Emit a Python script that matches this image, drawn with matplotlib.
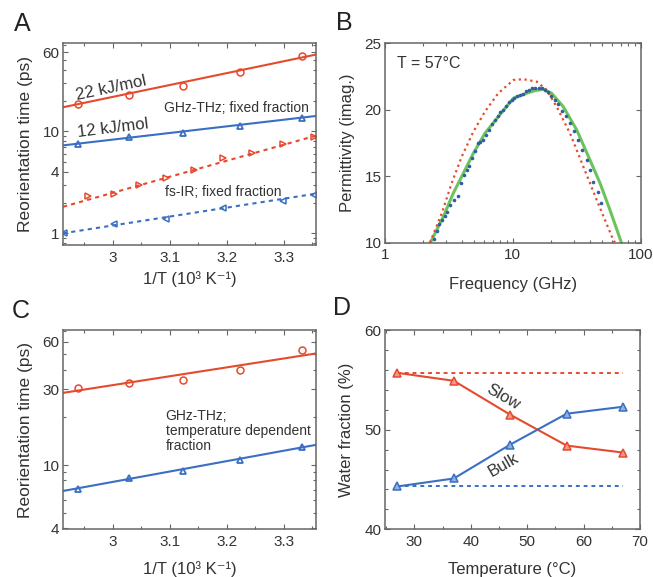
import numpy as np
import matplotlib
matplotlib.use("Agg")
import matplotlib.pyplot as plt
from matplotlib.ticker import MultipleLocator, LogLocator, NullFormatter

plt.rcParams["font.family"] = ["Liberation Sans", "DejaVu Sans"]
plt.rcParams["text.color"] = "#333333"
plt.rcParams["axes.labelcolor"] = "#333333"
plt.rcParams["xtick.color"] = "#666666"
plt.rcParams["ytick.color"] = "#666666"
plt.rcParams["xtick.labelcolor"] = "#333333"
plt.rcParams["ytick.labelcolor"] = "#333333"

RED = "#e64a2e"
BLUE = "#3a6fc2"
GREEN = "#6cc35c"
DOTS = "#2f5ea8"

# --- panel A: fixed fraction ---
inv_t = [2.940, 3.029, 3.124, 3.224, 3.332]
tau_slow_fixed = [18.7, 22.9, 28.2, 38.2, 55.6]
tau_bulk_fixed = [7.46, 8.8, 9.64, 11.3, 13.6]
inv_t_ir_slow = [2.957, 3.002, 3.047, 3.094, 3.143, 3.193, 3.245, 3.299, 3.354]
tau_ir_slow = [2.31, 2.45, 2.96, 3.52, 4.21, 5.48, 6.14, 7.57, 8.8]
inv_t_ir_bulk = [2.914, 3.002, 3.094, 3.193, 3.299, 3.354]
tau_ir_bulk = [1.01, 1.22, 1.37, 1.79, 2.08, 2.39]
fit_x = [2.913, 3.357]
fit_slow_fixed = [17.3, 57.0]
fit_bulk_fixed = [7.3, 14.2]
fit_ir_slow = [1.82, 9.1]
fit_ir_bulk = [1.0, 2.45]

# --- panel B: spectrum at 57 C ---
freq_fit = [2.25, 2.32, 2.86, 3.42, 4.10, 4.91, 6.05, 7.69, 10.1, 12.8, 15.0, 17.3,
            20.1, 24.8, 31.6, 40.1, 48.1, 57.5, 71.0]
eps_fit = [10.0, 10.2, 11.96, 13.72, 15.22, 16.73, 18.23, 19.48, 20.87, 21.24, 21.45, 21.54,
           21.24, 20.23, 18.48, 16.22, 14.47, 12.46, 9.95]
freq_fixed = [2.25, 2.78, 3.32, 3.98, 4.91, 6.05, 7.69, 10.1, 12.1, 15.4, 18.4, 22.0,
              28.0, 35.6, 45.3, 61.0, 64.0]
eps_fixed = [10.0, 12.21, 14.47, 16.47, 18.35, 19.86, 21.24, 22.24, 22.30, 22.11, 21.49, 20.23,
             18.23, 15.72, 13.21, 10.2, 9.9]
freq_meas = [2.40, 2.55, 2.65, 2.80, 2.95, 3.05, 3.25, 3.45, 3.75, 3.95, 4.15, 4.35, 4.55,
             4.80, 5.05, 5.30, 5.55, 5.85, 6.15, 6.50, 6.85, 7.20, 7.60, 8.00, 8.40, 8.85,
             9.30, 9.80, 10.3, 10.8, 11.4, 12.0, 12.7, 13.4, 14.2, 15.0, 15.9, 16.8, 17.8,
             18.9, 20.0, 21.3, 22.6, 24.2, 26.0, 28.0, 30.0, 32.5, 35.0, 38.0, 40.0, 42.6,
             46.0, 49.0]
eps_meas = [10.3, 10.9, 11.4, 11.7, 12.0, 12.3, 12.8, 13.2, 13.5, 14.5, 15.1, 15.5, 15.8,
            16.4, 16.9, 17.5, 17.6, 17.7, 18.1, 18.5, 18.9, 19.2, 19.5, 19.8, 20.0, 20.3,
            20.6, 20.7, 20.9, 21.0, 21.1, 21.2, 21.4, 21.5, 21.6, 21.6, 21.6, 21.6, 21.5,
            21.3, 21.0, 20.7, 20.4, 19.9, 19.5, 19.0, 18.4, 17.7, 17.0, 16.2, 15.5, 14.6,
            13.8, 13.0]

# --- panel C: temperature dependent fraction ---
tau_slow_tdep = [30.6, 33.1, 34.3, 39.5, 52.8]
tau_bulk_tdep = [7.07, 8.32, 9.17, 10.75, 13.0]
fit_slow_tdep = [28.5, 50.5]
fit_bulk_tdep = [6.86, 13.4]

# --- panel D: water fractions ---
temp_c = [27, 37, 47, 57, 67]
frac_slow = [55.7, 54.9, 51.5, 48.4, 47.7]
frac_bulk = [44.3, 45.1, 48.5, 51.6, 52.3]
frac_slow_fixed = 55.7
frac_bulk_fixed = 44.3

W, H = 653, 577
fig = plt.figure(figsize=(W / 100, H / 100), dpi=100)


def add_ax(left, top, right, bottom):
    return fig.add_axes([left / W, 1 - bottom / H, (right - left) / W, (bottom - top) / H])


def style(ax, ylab_x, xlab_y):
    for s in ax.spines.values():
        s.set_color("#666666")
        s.set_linewidth(1.1)
    ax.tick_params(which="both", direction="in", top=True, right=True, width=0.8)
    ax.tick_params(which="major", length=3.5, labelsize=11)
    ax.tick_params(which="minor", length=2)
    ax.tick_params(axis="y", pad=2.5)
    ax.tick_params(axis="x", pad=4)
    # label centres
    ax.yaxis.label.set_va("center")
    ax.xaxis.label.set_va("center")
    ax.yaxis.set_label_coords(ylab_x, 0.5)
    ax.xaxis.set_label_coords(0.5, xlab_y)


def inv_t_axis(ax):
    ax.set_xlim(fit_x)
    ax.xaxis.set_major_locator(MultipleLocator(0.1))
    ax.xaxis.set_minor_locator(MultipleLocator(0.05))
    ax.set_xticks([3.0, 3.1, 3.2, 3.3])
    ax.set_xticklabels(["3", "3.1", "3.2", "3.3"])
    ax.set_xlabel("1/T (10³ K⁻¹)", fontsize=12)
    ax.set_ylabel("Reorientation time (ps)", fontsize=12.5)
    ax.yaxis.set_minor_locator(LogLocator(subs=np.arange(2, 10)))
    ax.yaxis.set_minor_formatter(NullFormatter())


# A
axA = add_ax(63, 43, 316, 245)
axA.set_yscale("log")
axA.plot(fit_x, fit_slow_fixed, color=RED, lw=1.5)
axA.plot(fit_x, fit_bulk_fixed, color=BLUE, lw=1.5)
axA.plot(fit_x, fit_ir_slow, color=RED, lw=1.5, ls=(0, (2, 2)))
axA.plot(fit_x, fit_ir_bulk, color=BLUE, lw=1.5, ls=(0, (2, 2)))
axA.plot(inv_t, tau_slow_fixed, "o", mfc="none", mec=RED, ms=5, mew=1.1)
axA.plot(inv_t, tau_bulk_fixed, "^", mfc="none", mec=BLUE, ms=5, mew=1.3)
axA.plot(inv_t_ir_slow, tau_ir_slow, ">", mfc="none", mec=RED, ms=5, mew=1.1)
axA.plot(inv_t_ir_bulk, tau_ir_bulk, "<", mfc="none", mec=BLUE, ms=5, mew=1.1)
axA.set_ylim(0.767, 74)
axA.set_yticks([1, 4, 10, 60])
axA.set_yticklabels(["1", "4", "10", "60"])
inv_t_axis(axA)
style(axA, -0.15, -0.17)
axA.text(0.189, 0.776, "22 kJ/mol", transform=axA.transAxes, fontsize=12,
         ha="center", va="center", rotation=12)
axA.text(0.196, 0.578, "12 kJ/mol", transform=axA.transAxes, fontsize=12,
         ha="center", va="center", rotation=7)
axA.text(0.686, 0.677, "GHz-THz; fixed fraction", transform=axA.transAxes, fontsize=10,
         ha="center", va="center")
axA.text(0.634, 0.264, "fs-IR; fixed fraction", transform=axA.transAxes, fontsize=10,
         ha="center", va="center")

# B
axB = add_ax(385, 43.3, 640.7, 242.7)
axB.set_xscale("log")
axB.plot(freq_fit, eps_fit, color=GREEN, lw=2.2, zorder=2)
axB.plot(freq_fixed, eps_fixed, color=RED, lw=1.6, ls=(0, (1, 1.6)), zorder=3)
axB.plot(freq_meas, eps_meas, "o", color=DOTS, ms=2.6, mew=0, zorder=4)
axB.set_xlim(1, 100)
axB.set_ylim(10, 25)
axB.set_xticks([1, 10, 100])
axB.set_xticklabels(["1", "10", "100"])
axB.xaxis.set_minor_locator(LogLocator(subs=np.arange(2, 10)))
axB.xaxis.set_minor_formatter(NullFormatter())
axB.set_yticks([10, 15, 20, 25])
axB.set_xlabel("Frequency (GHz)", fontsize=12)
axB.set_ylabel("Permittivity (imag.)", fontsize=12)
style(axB, -0.146, -0.21)
axB.text(0.046, 0.9, "T = 57°C", transform=axB.transAxes, fontsize=11.5,
         ha="left", va="center")

# C
axC = add_ax(63, 330, 316, 529)
axC.set_yscale("log")
axC.plot(fit_x, fit_slow_tdep, color=RED, lw=1.5)
axC.plot(fit_x, fit_bulk_tdep, color=BLUE, lw=1.5)
axC.plot(inv_t, tau_slow_tdep, "o", mfc="none", mec=RED, ms=5, mew=1.1)
axC.plot(inv_t, tau_bulk_tdep, "^", mfc="none", mec=BLUE, ms=5, mew=1.3)
axC.set_ylim(3.95, 71)
axC.set_yticks([4, 10, 30, 60])
axC.set_yticklabels(["4", "10", "30", "60"])
inv_t_axis(axC)
style(axC, -0.15, -0.2)
axC.text(0.406, 0.492, "GHz-THz;\ntemperature dependent\nfraction", transform=axC.transAxes,
         fontsize=10, ha="left", va="center", linespacing=1.1)

# D
axD = add_ax(385, 330, 640, 529.3)
axD.plot([temp_c[0], temp_c[-1]], [frac_slow_fixed] * 2, color=RED, lw=1.4, ls=(0, (2, 2)))
axD.plot([temp_c[0], temp_c[-1]], [frac_bulk_fixed] * 2, color=BLUE, lw=1.4, ls=(0, (2, 2)))
axD.plot(temp_c, frac_slow, "-^", color=RED, lw=1.5, ms=6, mfc="#f19a86", mec=RED, mew=1.1)
axD.plot(temp_c, frac_bulk, "-^", color=BLUE, lw=1.5, ms=6, mfc="#8fb0e0", mec=BLUE, mew=1.1)
axD.set_xlim(24.8, 70)
axD.set_ylim(40, 60)
axD.xaxis.set_major_locator(MultipleLocator(10))
axD.xaxis.set_minor_locator(MultipleLocator(5))
axD.yaxis.set_major_locator(MultipleLocator(10))
axD.yaxis.set_minor_locator(MultipleLocator(2))
axD.set_xlabel("Temperature (°C)", fontsize=12)
axD.set_ylabel("Water fraction (%)", fontsize=12)
style(axD, -0.15, -0.2)
axD.text(0.464, 0.665, "Slow", transform=axD.transAxes, fontsize=12,
         ha="center", va="center", rotation=-30)
axD.text(0.464, 0.323, "Bulk", transform=axD.transAxes, fontsize=12,
         ha="center", va="center", rotation=30)

# panel letters
for letter, px, py in [("A", 22, 24), ("B", 344, 23), ("C", 21, 311), ("D", 342, 308)]:
    fig.text(px / W, 1 - py / H, letter, fontsize=18, ha="center", va="center", color="#222222")

fig.savefig("out.png", dpi=100)
